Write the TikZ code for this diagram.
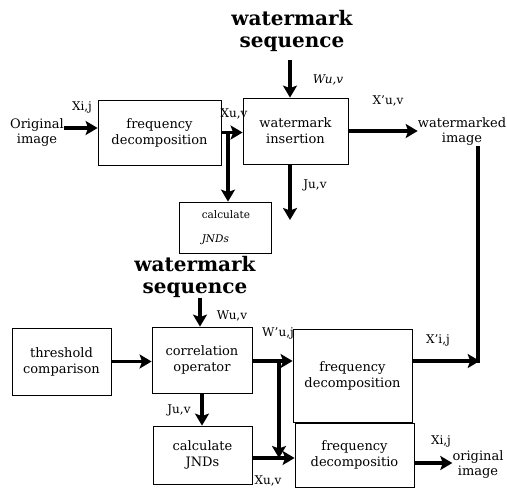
\documentclass[tikz,border=0pt]{standalone}
\usepackage{fontspec}
\setmainfont{DejaVu Serif}
\usetikzlibrary{arrows.meta}

\begin{document}
\begin{tikzpicture}[x=1pt, y=-1pt,
    box/.style={draw, line width=0.8pt, align=center, inner sep=0pt,
        font=\fontsize{13}{16}\selectfont},
    txt/.style={align=center, inner sep=0pt, font=\fontsize{13}{15}\selectfont},
    lbl/.style={inner sep=0pt, font=\fontsize{12}{13}\selectfont},
    title/.style={align=center, inner sep=0pt, font=\fontsize{20}{22}\selectfont\bfseries},
    arr/.style={line width=3.4pt, -{Stealth[length=12pt, width=14pt, inset=2.5pt]}},
    thk/.style={line width=3.4pt}]
    \useasboundingbox (0, 0) rectangle (507, 491);

    % upper half
    \node[title] (wm1) at (292, 31) {watermark\\sequence};
    \node[txt] (orig) at (37, 133) {Original\\image};
    \node[box, minimum width=123, minimum height=65] (fd1) at (159.5, 132.5) {frequency\\decomposition};
    \node[box, minimum width=105, minimum height=66] (wi) at (295.5, 131) {watermark\\insertion};
    \node[box, minimum width=92, minimum height=51, align=left,
        font=\fontsize{10.5}{24}\selectfont] (cj1) at (225, 227.5)
        {\,calculate\\\,\textit{JNDs}};
    \node[txt] (wmi) at (462, 132) {watermarked\\image};

    \coordinate (ws1) at (290, 60);
    \coordinate (br1) at (228, 132);
    \coordinate (ju1) at (290, 220);
    \coordinate (dn1) at (478, 152);
    \coordinate (row1) at (0, 128);

    \draw[arr] (orig.east |- row1) -- (fd1.west |- row1);
    \draw[arr] (fd1.east) -- (wi.west |- fd1.east);
    \draw[arr] (br1) -- (br1 |- cj1.north);
    \draw[arr] (ws1) -- (ws1 |- wi.north);
    \draw[arr] (wi.east) -- (wmi.west |- wi.east);
    \draw[arr] (ju1 |- wi.south) -- (ju1);

    \node[lbl] (l1) at (82, 107) {Xi,j};
    \node[lbl] (l2) at (234, 114) {Xu,v};
    \node[lbl] (l3) at (328, 80) {\textit{Wu,v}};
    \node[lbl] (l4) at (388, 101) {X’u,v};
    \node[lbl] (l5) at (315, 185) {Ju,v};

    % lower half
    \node[title] (wm2) at (195, 277) {watermark\\sequence};
    \node[box, minimum width=99, minimum height=67] (tc) at (61.5, 361.5) {threshold\\comparison};
    \node[box, minimum width=100, minimum height=66] (co) at (202, 360) {correlation\\operator};
    \node[box, minimum width=99, minimum height=58] (cj2) at (202.5, 455) {calculate\\JNDs};
    \node[box, minimum width=119, minimum height=93] (fd2) at (352.5, 375.5) {frequency\\decomposition};
    \node[box, minimum width=119, minimum height=64] (fd3) at (354.5, 455) {frequency\\decompositio};
    \node[txt] (oi) at (478, 464) {original\\image};

    \coordinate (ws2) at (200, 298);
    \coordinate (br2) at (279, 361);
    \coordinate (row2) at (0, 458);
    \coordinate (row3) at (0, 463);

    \draw[arr] (ws2) -- (ws2 |- co.north);
    \draw[arr] (tc.east) -- (co.west |- tc.east);
    \draw[arr] (co.south) -- (co.south |- cj2.north);
    \draw[arr] (co.east |- br2) -- (fd2.west |- br2);
    \draw[arr] (br2) -- (br2 |- row2);
    \draw[arr] (cj2.east |- row2) -- (fd3.west |- row2);
    \draw[thk] (dn1 |- wmi.south) -- ([yshift=-1.7pt]dn1 |- br2);
    \draw[arr] (fd2.east |- br2) -- ([xshift=1.7pt]dn1 |- br2);
    \draw[arr] (fd3.east |- row3) -- (oi.west |- row3);

    \node[lbl] (l6) at (232, 316) {Wu,v};
    \node[lbl] (l7) at (179, 410) {Ju,v};
    \node[lbl] (l8) at (278, 333) {W’u,j};
    \node[lbl] (l9) at (438, 340) {X’i,j};
    \node[lbl] (l10) at (268, 481) {Xu,v};
    \node[lbl] (l11) at (441, 441) {Xi,j};
\end{tikzpicture}
\end{document}
